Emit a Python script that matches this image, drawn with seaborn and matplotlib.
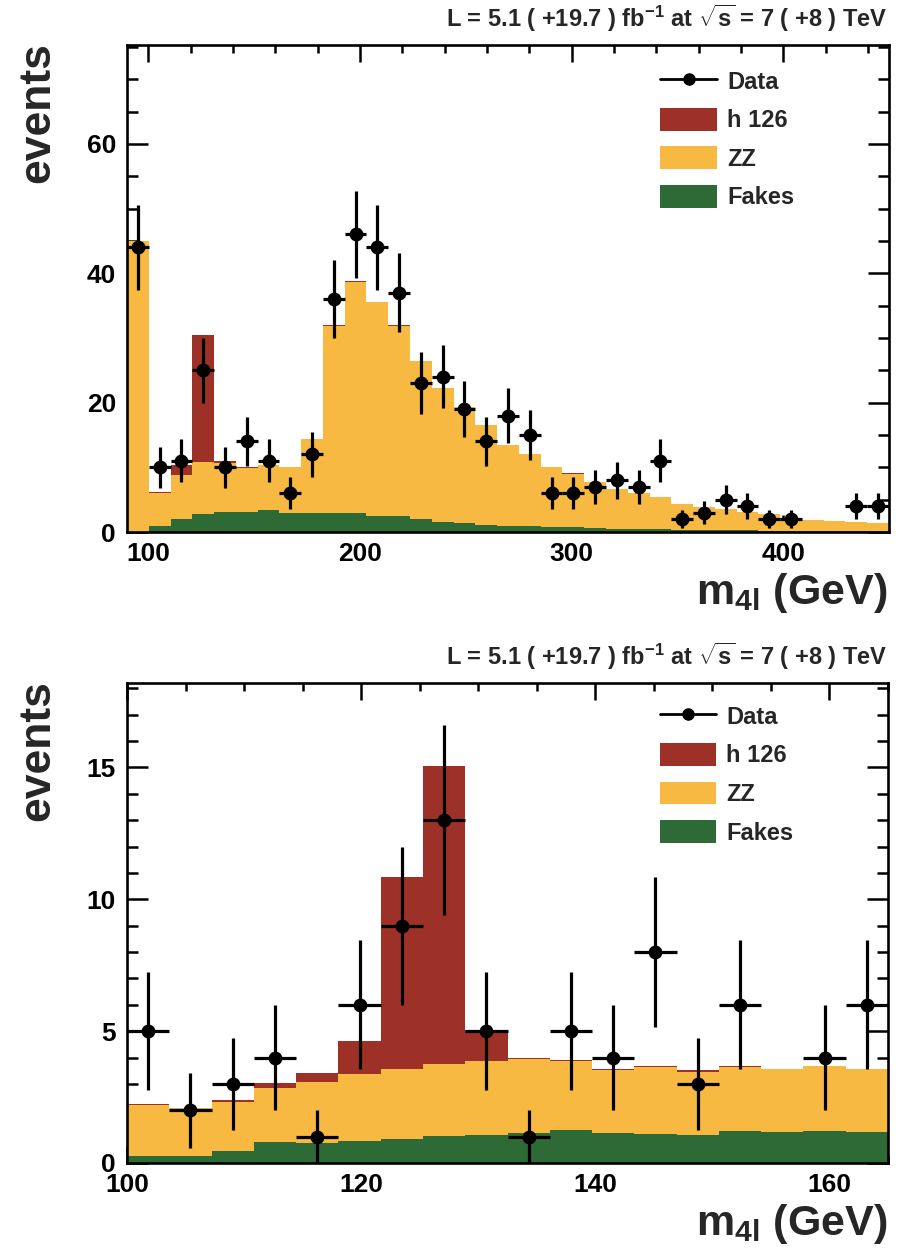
import numpy as np
import pandas as pd
import matplotlib
matplotlib.use("Agg")
import matplotlib.pyplot as plt
from matplotlib.lines import Line2D
from matplotlib.patches import Patch
from matplotlib.ticker import MultipleLocator
import seaborn as sns

# ---- full mass range: 35 bins between 90 and 450 GeV ----
range_full = (90, 450)
nbins_full = 35
data_full = [44, 10, 11, 25, 10, 14, 11, 6, 12, 36, 46, 44, 37, 23, 24, 19, 14, 18,
             15, 6, 6, 7, 8, 7, 11, 2, 3, 5, 4, 2, 2, 0, 0, 4, 4]
fakes_full = [0.0, 0.9, 2.0, 2.8, 3.1, 3.1, 3.4, 3.0, 3.0, 3.0, 3.0, 2.5, 2.4, 2.0,
              1.6, 1.4, 1.15, 1.0, 0.9, 0.8, 0.7, 0.6, 0.5, 0.45, 0.4, 0.35, 0.3,
              0.3, 0.25, 0.2, 0.2, 0.15, 0.1, 0.1, 0.1]
zz_full = [45.0, 5.1, 6.8, 8.0, 7.6, 6.8, 6.9, 7.1, 11.4, 28.8, 35.6, 33.0, 29.4,
           24.5, 20.7, 18.0, 15.35, 12.4, 11.1, 9.2, 8.2, 7.2, 6.1, 5.55, 5.0, 4.05,
           3.6, 3.2, 2.85, 2.6, 1.9, 1.75, 1.6, 1.4, 1.3]
h126_full = [0.0, 0.15, 1.5, 19.7, 0.3, 0.15, 0.0, 0.0, 0.0, 0.2, 0.2, 0.05, 0.2,
             0.0, 0.0, 0.0, 0.0, 0.0, 0.0, 0.0, 0.2, 0.0, 0.0, 0.0, 0.0, 0.0, 0.0,
             0.0, 0.0, 0.0, 0.0, 0.0, 0.0, 0.0, 0.0]

# ---- low-mass window: 18 bins between 100 and 165 GeV ----
range_low = (100, 165)
nbins_low = 18
data_low = [5, 2, 3, 4, 1, 6, 9, 13, 5, 1, 5, 4, 8, 3, 6, 0, 4, 6]
fakes_low = [0.25, 0.25, 0.45, 0.78, 0.75, 0.83, 0.9, 1.02, 1.08, 1.15, 1.25, 1.15,
             1.1, 1.08, 1.22, 1.19, 1.22, 1.16]
zz_low = [1.95, 1.85, 1.85, 2.07, 2.32, 2.56, 2.68, 2.74, 2.79, 2.79, 2.63, 2.37,
          2.53, 2.37, 2.41, 2.37, 2.44, 2.40]
h126_low = [0.04, 0.0, 0.1, 0.19, 0.33, 1.24, 7.27, 11.29, 1.18, 0.06, 0.03, 0.05,
            0.06, 0.06, 0.06, 0.0, 0.0, 0.0]

legend_labels = ["Data", "h 126", "ZZ", "Fakes"]
lumi_text = r"L = 5.1 ( +19.7 ) fb$^{-1}$ at $\sqrt{s}$ = 7 ( +8 ) TeV"
xlabel_text = r"m$_{4l}$ (GeV)"
ylabel_text = "events"

COL_H = "#9d3127"
COL_ZZ = "#f8b942"
COL_FAKE = "#2e6a36"

sns.set_theme(style="ticks")
plt.rcParams.update({
    "font.family": ["Liberation Sans", "DejaVu Sans"],
    "font.weight": "bold",
    "axes.edgecolor": "black",
    "xtick.color": "black",
    "ytick.color": "black",
    "mathtext.fontset": "custom",
    "mathtext.rm": "Liberation Sans:bold",
    "mathtext.bf": "Liberation Sans:bold",
    "mathtext.it": "Liberation Sans:bold",
    "mathtext.sf": "Liberation Sans:bold",
})

W, H = 906, 1249
fig = plt.figure(figsize=(W / 100, H / 100), dpi=100)


def px_box(left, top, right, bottom):
    return [left / W, 1 - bottom / H, (right - left) / W, (bottom - top) / H]


def draw_panel(ax, xrange, nbins, data, h126, zz, fakes, ymax, xmaj, xmin, ymaj, ymin,
               legend_anchor):
    edges = np.histogram_bin_edges([], bins=nbins, range=xrange)
    centers = 0.5 * (edges[:-1] + edges[1:])
    widths = np.diff(edges)
    fakes = np.asarray(fakes, float)
    zz = np.asarray(zz, float)
    h126 = np.asarray(h126, float)

    # stacked backgrounds: draw cumulative layers from the top down
    for heights, col in [(fakes + zz + h126, COL_H), (fakes + zz, COL_ZZ), (fakes, COL_FAKE)]:
        layer = pd.DataFrame({"m4l": centers, "n": heights})
        sns.histplot(data=layer, x="m4l", weights="n", bins=nbins, binrange=xrange,
                     element="step", fill=True, color=col, alpha=1, linewidth=0, ax=ax)

    d = np.asarray(data, float)
    keep = d > 0
    pts = pd.DataFrame({"m4l": centers[keep], "n": d[keep]})
    ax.errorbar(pts["m4l"], pts["n"], xerr=widths[keep] / 2, yerr=np.sqrt(pts["n"]),
                fmt="none", ecolor="black", elinewidth=2.3, capsize=0, zorder=5)
    sns.scatterplot(data=pts, x="m4l", y="n", color="black", s=100, marker="o",
                    linewidth=0, zorder=6, ax=ax, legend=False)

    ax.set_xlim(*xrange)
    ax.set_ylim(0, ymax)
    ax.set_xlabel("")
    ax.set_ylabel("")
    ax.xaxis.set_major_locator(MultipleLocator(xmaj))
    ax.xaxis.set_minor_locator(MultipleLocator(xmin))
    ax.yaxis.set_major_locator(MultipleLocator(ymaj))
    ax.yaxis.set_minor_locator(MultipleLocator(ymin))
    ax.tick_params(which="both", direction="in", top=True, right=True, width=1.8,
                   labelsize=19)
    ax.tick_params(axis="y", which="major", length=15, pad=8)
    ax.tick_params(axis="y", which="minor", length=8)
    ax.tick_params(axis="x", which="major", length=12, pad=7)
    ax.tick_params(axis="x", which="minor", length=6)
    for sp in ax.spines.values():
        sp.set_visible(True)
        sp.set_linewidth(1.9)
        sp.set_color("black")

    handles = [
        Line2D([0], [0], color="black", lw=2.0, marker="o", markersize=8),
        Patch(facecolor=COL_H, edgecolor="none"),
        Patch(facecolor=COL_ZZ, edgecolor="none"),
        Patch(facecolor=COL_FAKE, edgecolor="none"),
    ]
    ax.legend(handles, legend_labels, loc="upper left", bbox_to_anchor=legend_anchor,
              frameon=False, fontsize=17, handlelength=2.4, handleheight=1.1,
              handletextpad=0.42, labelspacing=0.6, borderpad=0,
              borderaxespad=0)


ax_top = fig.add_axes(px_box(127, 45, 889, 532))
draw_panel(ax_top, range_full, nbins_full, data_full, h126_full, zz_full, fakes_full,
           ymax=75.3, xmaj=100, xmin=20, ymaj=20, ymin=5,
           legend_anchor=(0.70, 0.950))

ax_low = fig.add_axes(px_box(127, 683, 888, 1163))
draw_panel(ax_low, range_low, nbins_low, data_low, h126_low, zz_low, fakes_low,
           ymax=18.2, xmaj=20, xmin=5, ymaj=5, ymin=1,
           legend_anchor=(0.70, 0.955))

for shift in (0, 638):
    fig.text(887 / W, 1 - (27 + shift) / H, lumi_text, ha="right", va="baseline",
             fontsize=17, fontweight="bold")
    fig.text(38 / W, 1 - (42 + shift) / H, ylabel_text, rotation=90, ha="center",
             va="top", fontsize=32, fontweight="bold")

fig.text(887 / W, 1 - 604 / H, xlabel_text, ha="right", va="baseline",
         fontsize=31, fontweight="bold")
fig.text(887 / W, 1 - 1235 / H, xlabel_text, ha="right", va="baseline",
         fontsize=31, fontweight="bold")

fig.savefig("out.png", dpi=100)
